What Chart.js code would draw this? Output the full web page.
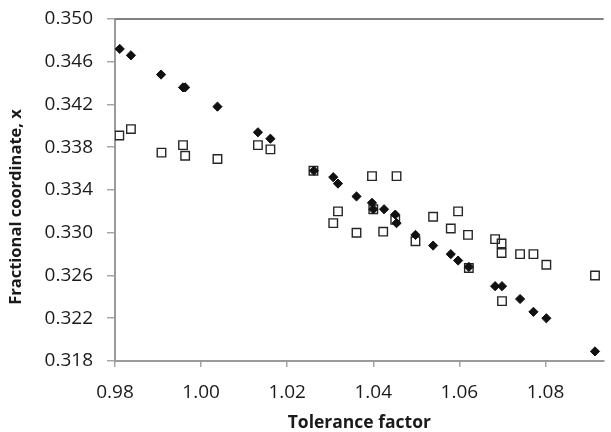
<!DOCTYPE html>
<html>
<head>
<meta charset="utf-8">
<script src="https://cdn.jsdelivr.net/npm/chart.js@4"></script>
<style>
  html, body { margin: 0; padding: 0; background: #ffffff; }
  #wrap { width: 611px; height: 432px; }
</style>
</head>
<body>
<div id="wrap"><canvas id="chart" width="611" height="432"></canvas></div>
<script>
// Tolerance factor vs fractional coordinate x
const filledX = [0.9811, 0.9837, 0.9907, 0.9958, 0.9963, 1.0038, 1.0132, 1.0161, 1.0262, 1.0307,
                 1.0318, 1.0361, 1.0397, 1.0400, 1.0425, 1.0451, 1.0454, 1.0498, 1.0539, 1.0580,
                 1.0597, 1.0622, 1.0683, 1.0699, 1.0741, 1.0772, 1.0802, 1.0915];
const filledY = [0.3472, 0.3466, 0.3448, 0.3436, 0.3436, 0.3418, 0.3394, 0.3388, 0.3358, 0.3352,
                 0.3346, 0.3334, 0.3328, 0.3322, 0.3322, 0.3317, 0.3309, 0.3298, 0.3288, 0.3280,
                 0.3274, 0.3268, 0.3250, 0.3250, 0.3238, 0.3226, 0.3220, 0.3189];

const openX = [0.9810, 0.9837, 0.9908, 0.9958, 0.9963, 1.0038, 1.0132, 1.0161, 1.0261, 1.0307,
               1.0318, 1.0361, 1.0397, 1.0400, 1.0423, 1.0451, 1.0454, 1.0498, 1.0539, 1.0580,
               1.0597, 1.0620, 1.0622, 1.0683, 1.0698, 1.0698, 1.0699, 1.0741, 1.0772, 1.0802,
               1.0915];
const openY = [0.3391, 0.3397, 0.3375, 0.3382, 0.3372, 0.3369, 0.3382, 0.3378, 0.3358, 0.3309,
               0.3320, 0.3300, 0.3353, 0.3322, 0.3301, 0.3312, 0.3353, 0.3292, 0.3315, 0.3304,
               0.3320, 0.3298, 0.3267, 0.3294, 0.3290, 0.3281, 0.3236, 0.3280, 0.3280, 0.3270,
               0.3260];

const xTicks = [0.98, 1.00, 1.02, 1.04, 1.06, 1.08];
const yTicks = [0.318, 0.322, 0.326, 0.330, 0.334, 0.338, 0.342, 0.346, 0.350];

const xTitle = 'Tolerance factor';
const yTitle = 'Fractional coordinate, x';

const toPoints = (xs, ys) => xs.map((x, i) => ({ x: x, y: ys[i] }));

const FONT = "'Open Sans', 'DejaVu Sans', sans-serif";

// gray frame line along the top of the plot area, and the vertical axis title
const frameAndTitle = {
  id: 'frameAndTitle',
  beforeDatasetsDraw(chart) {
    const { ctx, chartArea } = chart;
    ctx.save();
    ctx.strokeStyle = '#808080';
    ctx.lineWidth = 2;
    ctx.beginPath();
    ctx.moveTo(chartArea.left, chartArea.top);
    ctx.lineTo(chartArea.right, chartArea.top);
    ctx.stroke();
    ctx.restore();
  },
  afterDraw(chart) {
    const { ctx } = chart;
    ctx.save();
    ctx.translate(16, 207);
    ctx.rotate(-Math.PI / 2);
    ctx.fillStyle = '#1a1a1a';
    ctx.font = "bold 16.5px " + FONT;
    ctx.textAlign = 'center';
    ctx.textBaseline = 'middle';
    ctx.fillText(yTitle, 0, 0);
    ctx.restore();
  }
};

new Chart(document.getElementById('chart'), {
  type: 'scatter',
  data: {
    datasets: [
      {
        label: 'filled',
        data: toPoints(filledX, filledY),
        pointStyle: 'rectRot',
        pointRadius: 4.6,
        pointHoverRadius: 4.6,
        backgroundColor: '#111111',
        borderColor: '#111111',
        borderWidth: 1
      },
      {
        label: 'open',
        data: toPoints(openX, openY),
        pointStyle: 'rect',
        pointRadius: 6,
        pointHoverRadius: 6,
        backgroundColor: 'rgba(255,255,255,0)',
        borderColor: '#262626',
        borderWidth: 1.4
      }
    ]
  },
  options: {
    responsive: false,
    animation: false,
    devicePixelRatio: 1,
    layout: { padding: { top: 19, right: 0, left: 0, bottom: 0 } },
    plugins: {
      legend: { display: false },
      tooltip: { enabled: false }
    },
    scales: {
      x: {
        type: 'linear',
        min: 0.98,
        max: 1.0935,
        afterBuildTicks: (scale) => { scale.ticks = xTicks.map(v => ({ value: v })); },
        afterFit: (scale) => { scale.height = 71; },
        ticks: {
          color: '#1a1a1a',
          font: { family: FONT, size: 19 },
          padding: 14,
          maxRotation: 0,
          callback: (v) => Number(v).toFixed(2)
        },
        grid: { drawOnChartArea: false, drawTicks: true, tickLength: 6, color: '#a6a6a6', lineWidth: 1.5 },
        border: { display: true, color: '#9a9a9a', width: 2 },
        title: {
          display: true,
          text: xTitle,
          color: '#1a1a1a',
          font: { family: FONT, size: 17.5, weight: 'bold', lineHeight: 1 },
          padding: { top: 0, bottom: 0 }
        }
      },
      y: {
        type: 'linear',
        min: 0.318,
        max: 0.350,
        afterBuildTicks: (scale) => { scale.ticks = yTicks.map(v => ({ value: v })); },
        afterFit: (scale) => { scale.width = 115; scale.paddingTop = 0; scale.paddingBottom = 0; },
        ticks: {
          color: '#1a1a1a',
          font: { family: FONT, size: 19, lineHeight: 1 },
          padding: 14,
          callback: (v) => Number(v).toFixed(3)
        },
        grid: { drawOnChartArea: false, drawTicks: true, tickLength: 8, color: '#a6a6a6', lineWidth: 1.5 },
        border: { display: true, color: '#9a9a9a', width: 2 }
      }
    }
  },
  plugins: [frameAndTitle]
});
</script>
</body>
</html>
